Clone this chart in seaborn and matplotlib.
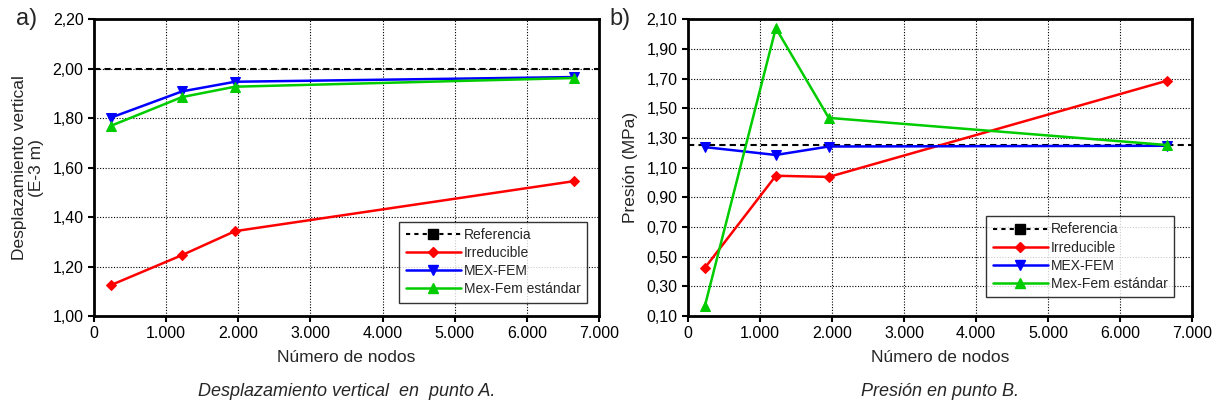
import matplotlib
matplotlib.use("Agg")
import matplotlib.pyplot as plt
import seaborn as sns
import numpy as np
from matplotlib.lines import Line2D
from matplotlib.ticker import FuncFormatter, MultipleLocator, FixedLocator

sns.set_style("white")
plt.rcParams['font.family'] = ['Liberation Sans', 'DejaVu Sans']

# Datos
nodos = [236, 1220, 1955, 6650]
ref_x = [0, 7000]

# a) Desplazamiento vertical (E-3 m)
desp_ref = [2.00, 2.00]
desp_irred = [1.125, 1.246, 1.343, 1.545]
desp_mexfem = [1.802, 1.908, 1.947, 1.966]
desp_estandar = [1.769, 1.885, 1.927, 1.962]

# b) Presión (MPa)
pres_ref = [1.255, 1.255]
pres_irred = [0.425, 1.045, 1.037, 1.685]
pres_mexfem = [1.238, 1.185, 1.242, 1.247]
pres_estandar = [0.17, 2.04, 1.435, 1.252]

series = ['Referencia', 'Irreducible', 'MEX-FEM', 'Mex-Fem estándar']
colores = ['black', '#ff0000', '#0000ff', '#00cc00']
marcadores = ['s', 'D', 'v', '^']


def fmt_miles(v, pos):
    return f"{int(round(v)):,}".replace(",", ".")


def fmt_dec(v, pos):
    return f"{v:.2f}".replace(".", ",")


def dibujar(ax, ref, irred, mexfem, estandar, ylim, ylabel, letra, titulo, ley_pos):
    sns.lineplot(x=ref_x, y=ref, ax=ax, color='black', linestyle=(0, (3, 2)), lw=1.5)
    for vals, c, m, ms in zip([irred, mexfem, estandar], colores[1:], marcadores[1:], [5, 7, 7]):
        sns.lineplot(x=nodos, y=vals, ax=ax, color=c, marker=m, markersize=ms,
                     markeredgecolor=c, lw=1.8)
    ax.set_xlim(0, 7000)
    ax.set_ylim(*ylim)
    ax.xaxis.set_major_locator(MultipleLocator(1000))
    ax.yaxis.set_major_locator(FixedLocator(np.arange(ylim[0], ylim[1] + 0.01, 0.2)))
    ax.xaxis.set_major_formatter(FuncFormatter(fmt_miles))
    ax.yaxis.set_major_formatter(FuncFormatter(fmt_dec))
    ax.grid(True, color='black', linestyle=(0, (1, 1.5)), lw=0.8)
    for s in ax.spines.values():
        s.set_color('black')
        s.set_linewidth(2)
    ax.tick_params(axis='both', direction='out', length=4, width=1.5, labelsize=11.5,
                   colors='black', left=True, bottom=True)
    ax.set_xlabel('Número de nodos', fontsize=12.5, labelpad=6)
    ax.set_ylabel(ylabel, fontsize=12.5, labelpad=6)
    ax.text(-0.155, 1.0, letra, transform=ax.transAxes, fontsize=17, va='center', ha='left')
    ax.text(0.5, -0.255, titulo, transform=ax.transAxes, fontsize=13, style='italic',
            ha='center', va='center')
    handles = [Line2D([], [], color=c, marker=m, lw=1.8 if i else 1.5,
                      linestyle=(0, (2, 2)) if i == 0 else '-', markersize=7 if i != 1 else 5)
               for i, (c, m) in enumerate(zip(colores, marcadores))]
    leg = ax.legend(handles, series, loc='lower right', bbox_to_anchor=ley_pos,
                    fontsize=10, frameon=True, fancybox=False, edgecolor='black',
                    handlelength=4, labelspacing=0.3, borderpad=0.45, handletextpad=0.2)
    leg.get_frame().set_linewidth(1)


fig = plt.figure(figsize=(12.17, 4.08), dpi=100)
ax1 = fig.add_axes([0.0772, 0.2255, 0.415, 0.7275])
ax2 = fig.add_axes([0.5653, 0.2255, 0.4142, 0.7275])

dibujar(ax1, desp_ref, desp_irred, desp_mexfem, desp_estandar, (1.0, 2.2),
        'Desplazamiento vertical\n(E-3 m)', 'a)', 'Desplazamiento vertical  en  punto A.',
        (0.99, 0.022))
dibujar(ax2, pres_ref, pres_irred, pres_mexfem, pres_estandar, (0.1, 2.1),
        'Presión (MPa)', 'b)', 'Presión en punto B.', (0.978, 0.04))

fig.savefig('out.png', dpi=100)
